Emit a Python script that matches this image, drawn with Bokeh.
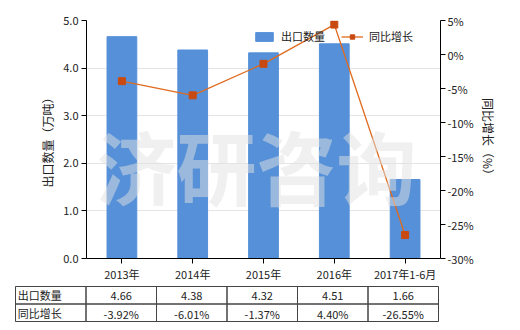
from bokeh.plotting import figure
from bokeh.models import (Range1d, LinearAxis, FixedTicker, PrintfTickFormatter,
                          FactorRange, Legend, LegendItem, Label, ColumnDataSource)
from bokeh.layouts import column
from bokeh.core.properties import value
from bokeh.embed import file_html
from bokeh.resources import INLINE

categories = ["2013年", "2014年", "2015年", "2016年", "2017年1-6月"]
export_qty = [4.66, 4.38, 4.32, 4.51, 1.66]
yoy_growth = [-3.92, -6.01, -1.37, 4.40, -26.55]
qty_labels = ["4.66", "4.38", "4.32", "4.51", "1.66"]
growth_labels = ["-3.92%", "-6.01%", "-1.37%", "4.40%", "-26.55%"]
left_ticks = [0, 1, 2, 3, 4, 5]
right_ticks = [-30, -25, -20, -15, -10, -5, 0, 5]
series_names = ["出口数量", "同比增长"]

FONT = "Noto Sans CJK SC"
BAR = "#5590D8"
LINE = "#E06A1E"
MARK = "#C94A10"
TXT = "#222222"

p = figure(x_range=FactorRange(*categories), y_range=Range1d(0, 5),
           width=520, height=284, output_backend="svg", toolbar_location=None,
           min_border_left=86, min_border_right=80, min_border_top=20,
           min_border_bottom=25)
p.extra_y_ranges = {"pct": Range1d(-30, 5)}
p.outline_line_color = None
p.background_fill_color = "white"
p.border_fill_color = "white"

src = ColumnDataSource(dict(cat=categories, qty=export_qty, yoy=yoy_growth))
bars = p.vbar(x="cat", top="qty", width=0.42, source=src, color=BAR)
ln = p.line(x="cat", y="yoy", source=src, color=LINE, line_width=1.3, y_range_name="pct")
mk = p.scatter(x="cat", y="yoy", source=src, marker="square", size=7, color=MARK,
               y_range_name="pct")

wm = Label(x=256 - 86, y=1.99, x_units="screen", y_units="data", text="济研咨询",
           text_align="center", text_baseline="middle",
           text_font=FONT, text_font_size="80px", text_font_style="bold",
           text_color="#e2e2e2", text_alpha=0.5)
p.add_layout(wm)

# axes
p.yaxis.ticker = FixedTicker(ticks=left_ticks)
p.yaxis.formatter = PrintfTickFormatter(format="%.1f")
p.yaxis.axis_label = "出口数量（万吨）"
p.yaxis.axis_label_standoff = 4
for ax in [p.yaxis[0], p.xaxis[0]]:
    ax.axis_line_color = "black"
    ax.major_tick_line_color = "black"
    ax.minor_tick_line_color = None
    ax.major_tick_out = 5
    ax.major_tick_in = 0
    ax.major_label_text_font = FONT
    ax.major_label_text_font_size = "11px"
    ax.major_label_text_color = TXT
    ax.axis_label_text_font = FONT
    ax.axis_label_text_font_size = "12px"
    ax.axis_label_text_font_style = "normal"
    ax.axis_label_text_color = TXT
p.yaxis.major_label_standoff = 3
p.xaxis.major_label_standoff = 2

ra = LinearAxis(y_range_name="pct", ticker=FixedTicker(ticks=right_ticks),
                formatter=PrintfTickFormatter(format="%d%%"),
                axis_label="同比增长（%）")
ra.axis_line_color = "black"
ra.major_tick_line_color = "black"
ra.minor_tick_line_color = None
ra.major_tick_out = 5
ra.major_tick_in = 0
ra.major_label_standoff = 2
ra.major_label_text_font = FONT
ra.major_label_text_font_size = "11px"
ra.major_label_text_color = TXT
ra.axis_label_text_font = FONT
ra.axis_label_text_font_size = "12px"
ra.axis_label_text_font_style = "normal"
ra.axis_label_text_color = TXT
ra.axis_label_standoff = 3
p.add_layout(ra, "right")

p.xgrid.grid_line_color = None
p.ygrid.grid_line_color = "#e4e4e4"
p.ygrid.ticker = FixedTicker(ticks=left_ticks[1:])

legend = Legend(items=[LegendItem(label=series_names[0], renderers=[bars]),
                       LegendItem(label=series_names[1], renderers=[ln, mk])],
                orientation="horizontal", location=(167, 214))
legend.padding = 0
legend.margin = 0
legend.spacing = 16
legend.glyph_width = 22
legend.glyph_height = 11
legend.label_standoff = 6
legend.label_height = 11
legend.label_text_font = FONT
legend.label_text_font_size = "11px"
legend.label_text_color = TXT
legend.border_line_color = None
legend.background_fill_alpha = 0
p.add_layout(legend, "center")

# table
hdr = "表头"
t = figure(x_range=FactorRange(hdr, *categories), y_range=Range1d(0, 2),
           width=520, height=46, output_backend="svg", toolbar_location=None,
           min_border_left=15, min_border_right=82, min_border_top=2,
           min_border_bottom=9, x_axis_location=None, y_axis_location=None)
t.outline_line_color = "#444444"
t.xgrid.grid_line_color = None
t.ygrid.grid_line_color = None
cells_x = [hdr] + categories
t.rect(x=cells_x * 2, y=[1.5] * 6 + [0.5] * 6, width=1, height=1,
       fill_alpha=0, line_color="#444444", line_width=1)
t.text(x=[hdr, hdr], y=[1.5, 0.5], text=series_names, x_offset=-33,
       text_align="left", text_baseline="middle", text_font=value(FONT),
       text_font_size="11px", text_color=TXT)
t.text(x=categories, y=[1.5] * 5, text=qty_labels, text_align="center",
       text_baseline="middle", text_font=value(FONT), text_font_size="11px",
       text_color=TXT, y_offset=1)
t.text(x=categories, y=[0.5] * 5, text=growth_labels, text_align="center",
       text_baseline="middle", text_font=value(FONT), text_font_size="11px",
       text_color=TXT, y_offset=1)

for fig in (p, t):
    if "frame_align" in fig.properties():
        fig.frame_align = False

layout = column(p, t, spacing=0)
open("out.html", "w").write(file_html(layout, INLINE))
